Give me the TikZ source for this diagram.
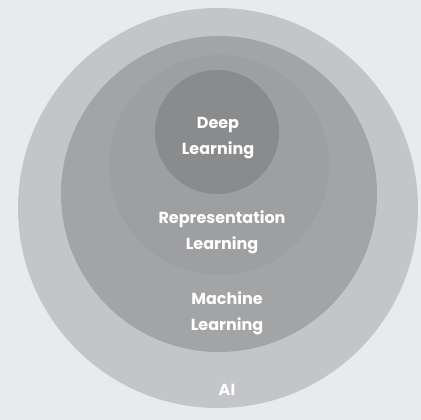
\documentclass[tikz,border=0pt]{standalone}
\usepackage{fontspec}
\setmainfont{Poppins}
\begin{document}
\begin{tikzpicture}[x=1pt,y=-1pt]
\definecolor{bgcol}{HTML}{E9EAEC}
\definecolor{aicol}{HTML}{C3C5C9}
\definecolor{mlcol}{HTML}{A3A4A6}
\definecolor{rlcol}{HTML}{9E9FA1}
\definecolor{dlcol}{HTML}{8A8B8D}
\tikzset{
  ring/.style={circle, inner sep=0pt, draw=none},
  lbl/.style={text=white, font=\fontsize{16}{26}\selectfont\bfseries, align=center}
}
\fill[bgcol] (0,0) rectangle (421,420);
\path[use as bounding box] (0,0) rectangle (421,420);
\node[ring, fill=aicol, minimum size=400pt] (ai) at (218,208) {};
\node[ring, fill=mlcol, minimum size=316pt] (ml) at (219,194) {};
\node[ring, fill=rlcol, minimum size=220pt] (rl) at (219,165) {};
\node[ring, fill=dlcol, minimum size=124pt] (dl) at (217,132) {};
\node[lbl] (dlt) at (218,138) {Deep\\Learning};
\node[lbl] (rlt) at (222,232) {Representation\\Learning};
\node[lbl] (mlt) at (227,313) {Machine\\Learning};
\node[lbl] (ait) at (227,390) {AI};
\end{tikzpicture}
\end{document}
